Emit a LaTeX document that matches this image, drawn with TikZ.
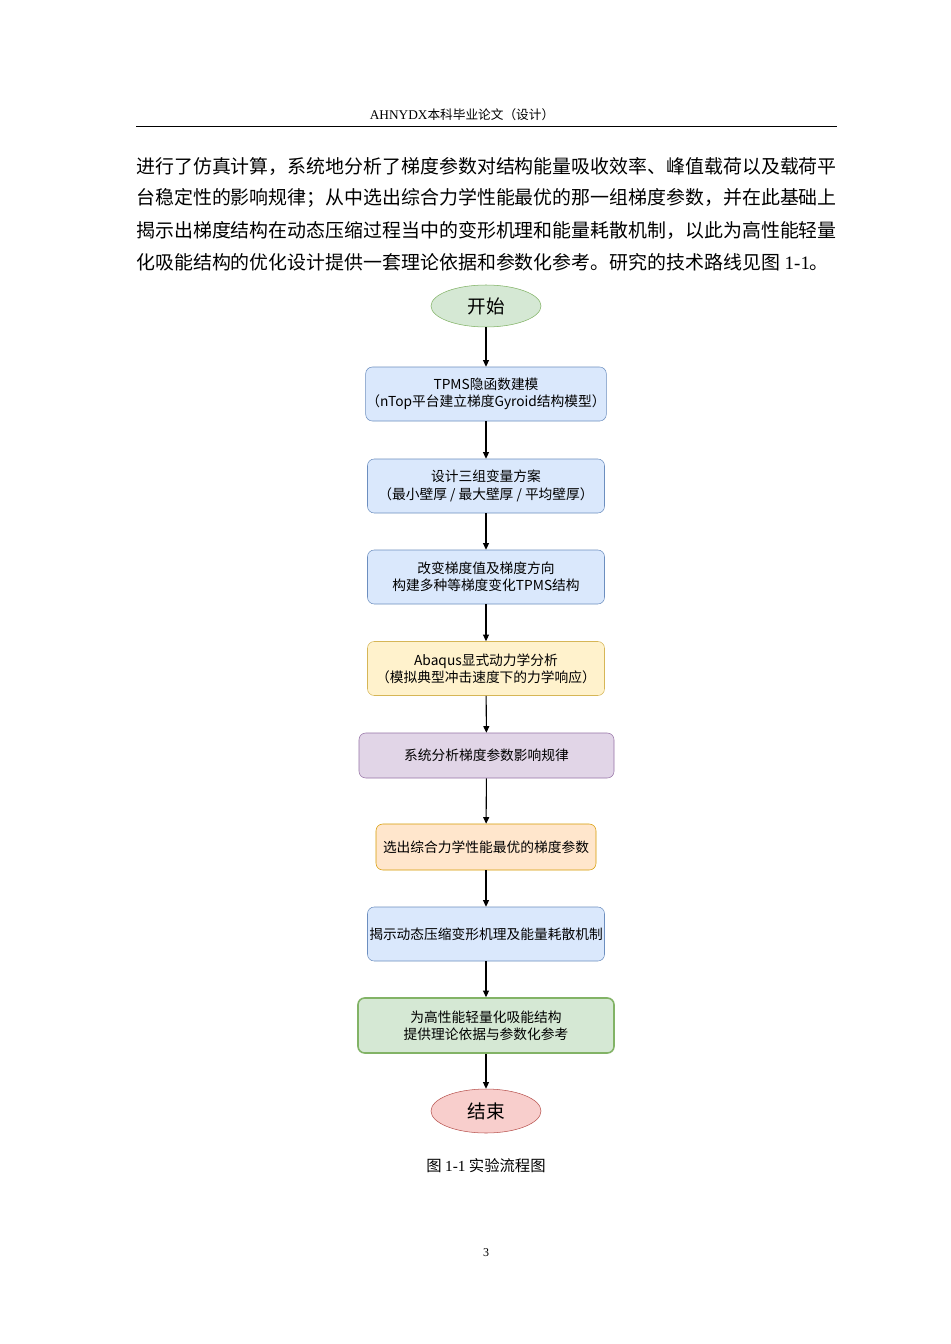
\documentclass[tikz,border=0pt]{standalone}
\usepackage{fontspec}
\setmainfont{Liberation Serif}
\newfontfamily\cjk{Noto Sans CJK SC}
\usetikzlibrary{shapes.geometric,arrows.meta}
\definecolor{gF}{HTML}{D5E8D4}\definecolor{gS}{HTML}{82B366}
\definecolor{bF}{HTML}{DAE8FC}\definecolor{bS}{HTML}{6C8EBF}
\definecolor{yF}{HTML}{FFF2CC}\definecolor{yS}{HTML}{D6B656}
\definecolor{pF}{HTML}{E1D5E7}\definecolor{pS}{HTML}{9673A6}
\definecolor{oF}{HTML}{FFE6CC}\definecolor{oS}{HTML}{D79B00}
\definecolor{rF}{HTML}{F8CECC}\definecolor{rS}{HTML}{B85450}
\begin{document}
\begin{tikzpicture}[x=0.75pt,y=-0.75pt,
  box/.style={draw,rounded corners=5pt,align=center,inner sep=2pt,font=\cjk\fontsize{10.3pt}{13pt}\selectfont,minimum width=177.75pt,minimum height=40.5pt},
  term/.style={ellipse,draw,minimum width=82.5pt,minimum height=31.5pt,inner sep=0pt,font=\cjk\fontsize{14pt}{16pt}\selectfont},
  arr/.style={-{Triangle[length=5pt,width=4.5pt]},thick},
  body/.style={anchor=west,inner sep=0pt,font=\cjk\fontsize{14.2pt}{16pt}\selectfont}]
\fill[white] (0,0) rectangle (950,1344);
\useasboundingbox (0,0) rectangle (950,1344);
\node[font=\fontsize{10pt}{11pt}\selectfont] (hdr) at (462,115) {AHNYDX{\cjk\fontsize{9.5pt}{11pt}\selectfont 本科毕业论文（设计）}};
\draw[line width=0.6pt] (136,126) -- (837,126);
\node[body] (l1) at (136,166) {进行了仿真计算，系统地分析了梯度参数对结构能量吸收效率、峰值载荷以及载荷平};
\node[body] (l2) at (136,198) {台稳定性的影响规律；从中选出综合力学性能最优的那一组梯度参数，并在此基础上};
\node[body] (l3) at (136,230) {揭示出梯度结构在动态压缩过程当中的变形机理和能量耗散机制，以此为高性能轻量};
\node[body] (l4) at (136,262) {化吸能结构的优化设计提供一套理论依据和参数化参考。研究的技术路线见图{\rmfamily\fontsize{14.2pt}{16pt}\selectfont\ 1-1}。};
\node[term,fill=gF,draw=gS] (s) at (486,306) {开始};
\node[box,fill=bF,draw=bS,inner sep=0.5pt] (b1) at (486,394) {TPMS隐函数建模\\（nTop平台建立梯度Gyroid结构模型）};
\node[box,fill=bF,draw=bS] (b2) at (486,486) {设计三组变量方案\\（最小壁厚 / 最大壁厚 / 平均壁厚）};
\node[box,fill=bF,draw=bS] (b3) at (486,577) {改变梯度值及梯度方向\\构建多种等梯度变化TPMS结构};
\node[box,fill=yF,draw=yS] (b4) at (486,668.5) {Abaqus显式动力学分析\\（模拟典型冲击速度下的力学响应）};
\node[box,fill=pF,draw=pS,minimum width=191.25pt,minimum height=33.75pt] (b5) at (486.5,755.5) {系统分析梯度参数影响规律};
\node[box,fill=oF,draw=oS,minimum width=165pt,minimum height=34.5pt] (b6) at (486,847) {选出综合力学性能最优的梯度参数};
\node[box,fill=bF,draw=bS,inner sep=0pt] (b7) at (486,934) {揭示动态压缩变形机理及能量耗散机制};
\node[box,fill=gF,draw=gS,line width=1.2pt,minimum width=192pt,minimum height=41.25pt] (b8) at (486,1025.5) {为高性能轻量化吸能结构\\提供理论依据与参数化参考};
\node[term,fill=rF,draw=rS,minimum height=33pt] (e) at (486,1111) {结束};
\foreach \a/\b in {s/b1,b1/b2,b2/b3,b3/b4,b4/b5,b5/b6,b6/b7,b7/b8,b8/e}
  \draw[arr] (\a) -- (\b);
\node[font=\cjk\fontsize{11.5pt}{13pt}\selectfont] (cap) at (486,1166) {图 {\rmfamily 1-1} 实验流程图};
\node[font=\fontsize{9pt}{11pt}\selectfont] (pg) at (486,1253) {3};
\end{tikzpicture}
\end{document}
